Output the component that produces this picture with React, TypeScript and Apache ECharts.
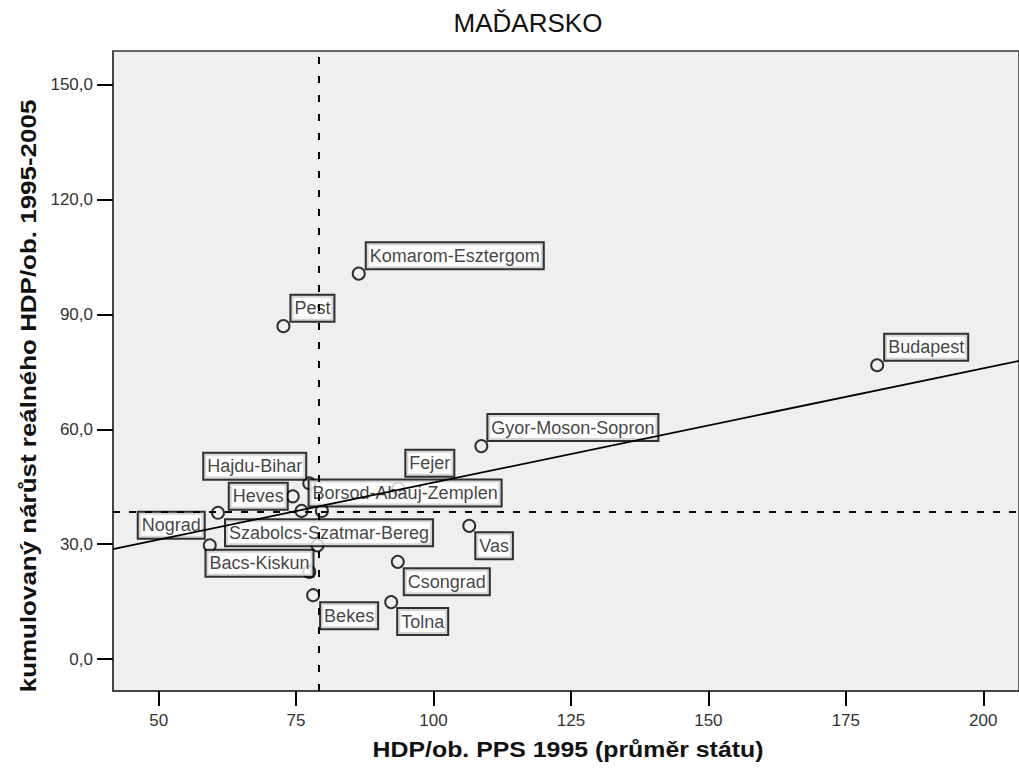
import React, { useEffect, useRef } from "react";
import * as echarts from "echarts";

// ---- data ----
const regions = [
  "Budapest",
  "Komarom-Esztergom",
  "Pest",
  "Gyor-Moson-Sopron",
  "Fejer",
  "Hajdu-Bihar",
  "Heves",
  "Borsod-Abauj-Zemplen",
  "Nograd",
  "Szabolcs-Szatmar-Bereg",
  "Bacs-Kiskun",
  "Bekes",
  "Csongrad",
  "Tolna",
  "Vas",
  "",
  "",
];
const hdp1995 = [180.7, 86.4, 72.7, 108.7, 93.6, 77.4, 74.4, 76.0, 59.3, 60.8, 78.9, 78.1, 93.5, 92.3, 106.5, 79.7, 77.4];
const growth = [76.7, 100.6, 86.9, 55.6, 44.5, 45.9, 42.5, 38.7, 29.7, 38.2, 29.7, 16.7, 25.4, 14.9, 34.8, 38.7, 22.8];

const xTicks = [50, 75, 100, 125, 150, 175, 200];
const yTicks = [0, 30, 60, 90, 120, 150];
const refX = 79.2;
const refY = 38.4;
const fitIntercept = 16.3;
const fitSlope = 0.298;
const xRange = [41.7, 206.5];
const yRange = [-8.3, 158.7];

// label placement (style, not data)
const labelSide = ["r", "r", "r", "r", "r", "l", "l", "r", "l", "r", "l", "r", "r", "r", "r", "r", "r"];
const labelDx = [8, 8, 8, 7, 8, -4, -6, 8, -6, 8, -5, 8, 7, 7, 7, 0, 0];
const labelDy = [-18, -18, -18, -18.5, -25.5, -17, 0, -18, -20, 20, 18, 20.5, 20, 19.5, 20, 0, 0];

const FONT = '"Liberation Sans", Arial, sans-serif';

export default function App() {
  const ref = useRef<HTMLDivElement>(null);
  useEffect(() => {
    if (!ref.current) return;
    const chart = echarts.init(ref.current, null, { renderer: "svg" });
    const points = regions.map((name, i) => ({
      name,
      value: [hdp1995[i], growth[i]],
      label: {
        show: name !== "",
        position: "inside",
        align: labelSide[i] === "r" ? "left" : "right",
        verticalAlign: "middle",
        offset: [labelDx[i], labelDy[i]],
      },
    }));
    const fitLine = [
      [xRange[0], fitIntercept + fitSlope * xRange[0]],
      [xRange[1], fitIntercept + fitSlope * xRange[1]],
    ];
    chart.setOption({
      animation: false,
      backgroundColor: "#ffffff",
      textStyle: { fontFamily: FONT },
      grid: {
        left: 113,
        right: -2,
        top: 51,
        bottom: 78,
        show: true,
        backgroundColor: "#efefef",
        borderColor: "#3a3a3a",
        borderWidth: 1.5,
        containLabel: false,
      },
      xAxis: {
        type: "value",
        min: xRange[0],
        max: xRange[1],
        splitLine: { show: false },
        axisLine: { show: true, onZero: false, lineStyle: { color: "#3a3a3a", width: 1.5 } },
        axisTick: { show: true, length: 15, customValues: xTicks, lineStyle: { color: "#000", width: 2 } },
        axisLabel: {
          customValues: xTicks,
          margin: 21,
          fontSize: 17,
          color: "#333",
          fontFamily: FONT,
        },
      },
      yAxis: {
        type: "value",
        min: yRange[0],
        max: yRange[1],
        splitLine: { show: false },
        axisLine: { show: true, onZero: false, lineStyle: { color: "#3a3a3a", width: 1.5 } },
        axisTick: { show: true, length: 16, customValues: yTicks, lineStyle: { color: "#000", width: 2 } },
        axisLabel: {
          customValues: yTicks,
          margin: 20,
          fontSize: 17,
          color: "#333",
          fontFamily: FONT,
          formatter: (v: number) => v.toFixed(1).replace(".", ","),
        },
      },
      graphic: [
        {
          type: "text",
          x: 528,
          y: 23,
          style: {
            text: "MAĎARSKO",
            fontSize: 26,
            fontFamily: FONT,
            fill: "#111",
            textAlign: "center",
            textVerticalAlign: "middle",
          },
        },
        {
          type: "text",
          x: 568,
          y: 750,
          scaleX: 1.13,
          style: {
            text: "HDP/ob. PPS 1995 (průměr státu)",
            fontSize: 22,
            fontWeight: "bold",
            fontFamily: FONT,
            fill: "#111",
            textAlign: "center",
            textVerticalAlign: "middle",
          },
        },
        {
          type: "text",
          x: 28,
          y: 396,
          rotation: Math.PI / 2,
          scaleX: 1.18,
          style: {
            text: "kumulovaný nárůst reálného HDP/ob. 1995-2005",
            fontSize: 22,
            fontWeight: "bold",
            fontFamily: FONT,
            fill: "#111",
            textAlign: "center",
            textVerticalAlign: "middle",
          },
        },
      ],
      series: [
        {
          type: "scatter",
          z: 2,
          symbol: "circle",
          symbolSize: 12,
          itemStyle: { color: "rgba(0,0,0,0)", borderColor: "#000", borderWidth: 2 },
          label: {
            fontSize: 18,
            fontFamily: FONT,
            color: "#111",
            backgroundColor: "#ffffff",
            borderColor: "#000",
            borderWidth: 2,
            padding: [4, 3, 3, 3],
            formatter: (p: any) => p.name,
          },
          data: points,
        },
        {
          type: "line",
          z: 3,
          silent: true,
          showSymbol: false,
          symbol: "none",
          lineStyle: { color: "#000", width: 1.8 },
          data: fitLine,
          markLine: {
            silent: true,
            symbol: "none",
            label: { show: false },
            data: [
              { xAxis: refX, lineStyle: { type: [7, 12], color: "#000", width: 2 } },
              { yAxis: refY, lineStyle: { type: [7, 9], color: "#000", width: 2 } },
            ],
          },
        },
      ],
    });
    return () => chart.dispose();
  }, []);
  return (
    <div
      ref={ref}
      style={{ position: "absolute", left: 0, top: 0, width: 1019, height: 769 }}
    />
  );
}
